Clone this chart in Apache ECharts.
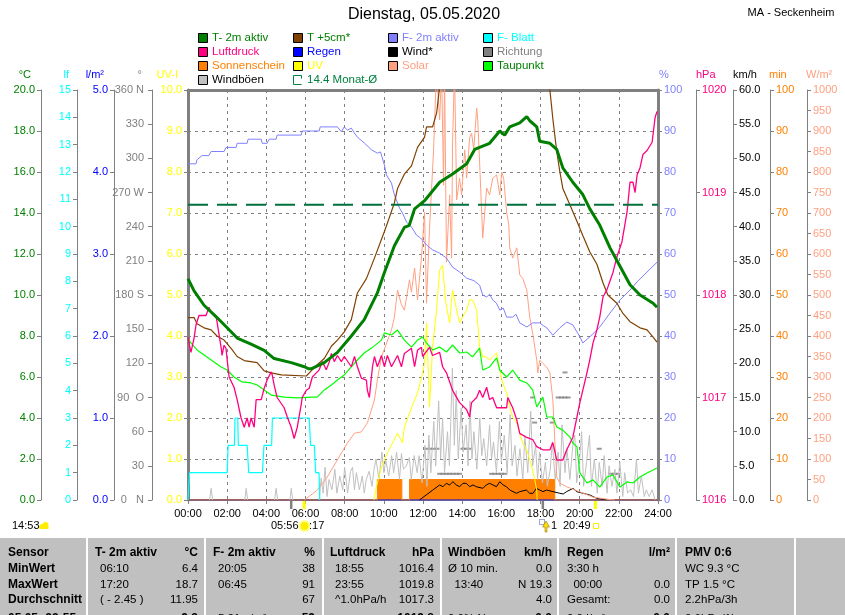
<!DOCTYPE html>
<html><head><meta charset="utf-8">
<script src="https://cdn.jsdelivr.net/npm/echarts@6/dist/echarts.min.js"></script>
<style>html,body{margin:0;padding:0;background:#fff}#c{width:845px;height:615px}</style>
</head><body><div id="c"></div>
<script>
// ---------- tick labels ----------
const stundenTicks = ['00:00','02:00','04:00','06:00','08:00','10:00','12:00','14:00','16:00','18:00','20:00','22:00','24:00'];
const richtungTicks = {0:'0   N', 90:'90  O', 180:'180 S', 270:'270 W', 360:'360 N'};

// ---------- series data: [hour, value] ----------
const t2m = [[0,10.8],[0.31,10.2],[0.82,9.5],[1.48,8.9],[2.0,8.4],[2.51,7.9],[3.22,7.6],[3.89,7.3],[4.4,6.9],[5.27,6.7],[5.94,6.5],[6.17,6.4],[6.29,6.4],[6.96,6.7],[7.63,7.2],[8.34,8.0],[9.0,8.8],[9.67,10.1],[10.03,11.1],[10.54,12.4],[11.05,13.3],[11.3,13.4],[11.57,14.2],[12.08,14.6],[12.85,15.5],[13.51,15.9],[14.23,16.4],[14.64,17.1],[14.89,17.2],[15.4,17.4],[15.92,18.0],[16.17,17.8],[16.43,18.2],[16.94,18.4],[17.3,18.7],[17.45,18.5],[17.81,18.2],[17.96,17.5],[18.48,17.4],[18.83,17.1],[19.14,16.2],[19.65,15.5],[20.16,14.9],[20.52,14.2],[21.03,13.4],[21.55,12.3],[22.06,11.4],[22.57,10.5],[23.08,10.0],[23.75,9.6],[23.95,9.4]];
const t5cm = [[0,8.9],[0.31,8.9],[0.46,8.6],[0.82,8.4],[1.18,8.3],[1.48,8.0],[1.84,7.8],[2.2,7.4],[2.51,7.0],[2.87,6.8],[3.53,6.7],[3.89,6.3],[4.25,6.2],[4.76,6.1],[6.04,6.05],[6.29,6.3],[6.6,6.6],[6.96,6.9],[7.32,7.5],[7.63,7.8],[7.98,8.2],[8.34,8.8],[8.65,10.1],[9.11,10.8],[9.52,11.8],[10.03,13.1],[10.29,13.8],[10.54,14.5],[10.7,15.2],[11.05,15.9],[11.41,16.3],[11.72,17.2],[12.08,17.7],[12.18,18.2],[12.49,18.2],[12.7,18.9],[12.9,20.6],[13.5,22.5],[14.5,24.0],[15.5,24.5],[16.5,24.0],[17.5,22.0],[18.3,20.6],[18.48,20.0],[18.63,18.6],[18.83,17.0],[18.99,16.0],[19.14,15.2],[19.5,14.4],[19.86,13.6],[20.16,12.9],[20.52,12.1],[20.88,11.5],[21.19,10.6],[21.44,10.0],[21.9,9.6],[22.21,9.1],[22.57,8.7],[23.08,8.4],[23.44,8.3],[23.75,7.95],[23.95,7.7]];
const taupunkt = [[0,7.9],[0.15,7.66],[0.46,7.32],[0.97,6.98],[1.33,6.73],[1.69,6.49],[2.0,6.34],[2.35,6.0],[2.76,5.76],[3.22,5.71],[3.53,5.61],[3.89,5.37],[4.25,5.12],[4.91,5.02],[5.58,4.98],[6.29,5.02],[6.6,5.02],[6.96,5.37],[7.32,5.61],[7.63,5.85],[7.98,6.1],[8.34,6.49],[8.65,6.83],[9.0,7.17],[9.37,7.41],[9.88,7.8],[10.03,8.15],[10.39,8.05],[10.7,8.29],[11.05,7.8],[11.41,7.46],[11.72,7.8],[11.98,7.95],[12.18,7.66],[12.49,7.32],[12.85,7.46],[13.2,7.22],[13.51,7.56],[13.87,7.17],[14.23,7.22],[14.53,6.98],[14.89,7.41],[15.05,6.34],[15.4,6.49],[15.76,6.93],[15.92,6.34],[16.27,6.0],[16.58,6.34],[16.94,5.85],[17.3,5.71],[17.6,5.37],[17.81,4.54],[18.12,5.02],[18.32,4.05],[18.63,4.05],[18.83,3.56],[19.14,3.41],[19.5,3.07],[19.65,2.78],[19.86,2.59],[20.01,1.32],[20.37,0.83],[20.68,0.98],[21.03,0.63],[21.39,1.12],[21.7,1.22],[22.06,0.63],[22.42,0.88],[22.72,0.83],[23.08,1.12],[23.44,1.32],[23.75,1.46],[23.95,1.56]];
const feuchte2m = [[0,82],[0.41,82],[0.46,83],[0.72,84],[1.07,84],[1.18,85],[1.84,85],[1.94,86],[2.46,86],[2.51,87],[3.02,87],[3.07,88],[3.74,88],[3.79,87],[4.04,87],[4.15,88],[4.5,88],[4.55,89],[5.78,89],[5.83,90],[6.7,90],[6.75,91],[7.63,91],[7.83,89.8],[7.98,91],[8.14,90.2],[8.34,90.7],[8.5,89.5],[8.65,88.5],[9.0,87.1],[9.37,85.4],[9.67,84.6],[9.83,84.9],[10.03,81.7],[10.13,79.3],[10.39,77.3],[10.54,74.4],[10.8,71.2],[10.95,70.0],[11.16,67.8],[11.41,66.6],[11.67,64.6],[11.82,64.1],[11.98,63.4],[12.18,62.2],[12.49,61.0],[12.85,60.2],[13.2,59.0],[13.51,56.8],[13.87,55.6],[14.23,54.1],[14.6,53.5],[14.89,52.4],[15.05,50.0],[15.25,49.5],[15.4,50.2],[15.56,48.8],[15.75,48.0],[15.92,46.3],[16.1,46.8],[16.27,44.6],[16.58,44.6],[16.75,45.3],[16.94,43.2],[17.3,42.2],[17.6,43.2],[17.96,43.2],[18.15,42.5],[18.32,42.0],[18.63,40.2],[18.99,42.0],[19.34,43.4],[19.65,42.7],[20.01,39.8],[20.16,38.3],[20.52,39.8],[21.03,42.2],[21.55,45.6],[22.06,48.8],[22.57,51.2],[22.93,53.2],[23.44,55.6],[23.95,58.0]];
const blatt = [[0,0],[0.05,0],[0.08,1],[2.0,1],[2.05,2],[2.37,2],[2.4,3],[2.54,3],[2.57,2],[3.02,2],[3.1,1],[3.8,1],[3.88,2],[4.27,2],[4.31,3],[6.19,3],[6.26,2],[6.45,2],[6.52,1],[6.69,1],[6.73,0]];
const luftdruck = [[0,1017.59],[0.15,1017.44],[0.31,1017.58],[0.41,1017.71],[0.56,1017.8],[0.92,1017.8],[1.07,1017.88],[1.18,1017.83],[1.43,1017.8],[1.48,1017.74],[1.69,1017.49],[1.74,1017.41],[1.84,1017.51],[1.94,1017.48],[2.0,1017.37],[2.1,1017.2],[2.35,1017.1],[2.51,1016.98],[2.71,1016.8],[2.87,1016.71],[3.02,1016.8],[3.12,1016.71],[3.22,1016.8],[3.38,1016.71],[3.48,1016.98],[3.74,1016.98],[3.89,1017.09],[4.04,1017.17],[4.25,1017.25],[4.3,1017.22],[4.4,1017.12],[4.55,1017.0],[4.91,1016.9],[5.07,1016.81],[5.27,1016.71],[5.42,1016.6],[5.58,1016.71],[5.78,1016.93],[5.83,1017.0],[6.04,1017.07],[6.19,1017.09],[6.35,1017.2],[6.55,1017.24],[6.7,1017.27],[6.86,1017.35],[7.06,1017.27],[7.22,1017.35],[7.32,1017.43],[7.47,1017.35],[7.63,1017.41],[7.83,1017.35],[7.98,1017.4],[8.34,1017.3],[8.5,1017.4],[8.65,1017.3],[8.85,1017.19],[9.11,1017.17],[9.16,1017.07],[9.26,1017.0],[9.42,1017.3],[9.52,1017.4],[9.67,1017.3],[9.88,1017.41],[10.03,1017.3],[10.18,1017.41],[10.39,1017.3],[10.7,1017.41],[10.9,1017.3],[11.05,1017.43],[11.41,1017.48],[11.57,1017.3],[11.72,1017.46],[11.92,1017.49],[11.98,1017.4],[12.33,1017.49],[12.49,1017.41],[12.85,1017.44],[13.0,1017.3],[13.2,1017.24],[13.51,1017.07],[13.87,1016.95],[14.23,1016.88],[14.38,1016.81],[14.48,1016.95],[14.74,1017.0],[14.89,1017.07],[15.05,1017.0],[15.25,1017.1],[15.4,1016.98],[15.56,1017.0],[15.76,1016.9],[16.27,1016.9],[16.33,1017.0],[16.58,1016.9],[16.79,1016.78],[16.94,1016.65],[17.3,1016.61],[17.6,1016.59],[17.81,1016.52],[18.12,1016.49],[18.48,1016.49],[18.63,1016.56],[18.83,1016.39],[19.14,1016.39],[19.34,1016.49],[19.65,1016.61],[20.01,1016.95],[20.16,1017.07],[20.37,1017.24],[20.52,1017.37],[20.68,1017.53],[20.88,1017.66],[21.03,1017.79],[21.19,1017.98],[21.39,1018.05],[21.7,1018.22],[21.9,1018.37],[22.16,1018.52],[22.42,1018.81],[22.57,1019.1],[22.72,1019.1],[22.83,1019.0],[22.93,1019.17],[23.08,1019.24],[23.23,1019.37],[23.44,1019.41],[23.7,1019.49],[23.85,1019.73],[23.95,1019.79]];
const solar = [[5.94,0],[6.6,24],[7.11,56],[7.63,98],[8.14,139],[8.5,163],[8.85,166],[9.16,188],[9.52,244],[9.67,293],[9.88,349],[10.39,415],[10.54,446],[10.7,512],[10.9,476],[11.05,463],[11.31,537],[11.41,507],[11.57,566],[11.72,488],[11.92,590],[12.08,702],[12.18,480],[12.33,659],[12.54,854],[12.69,1050],[12.85,927],[12.95,1050],[13.05,768],[13.1,1050],[13.2,580],[13.36,744],[13.46,590],[13.51,873],[13.61,1050],[13.72,732],[13.87,785],[13.97,744],[14.13,854],[14.23,785],[14.38,883],[14.48,895],[14.59,854],[14.74,956],[14.79,932],[14.89,824],[15.05,639],[15.25,761],[15.4,744],[15.56,785],[15.76,793],[15.92,744],[16.02,800],[16.12,785],[16.27,702],[16.38,671],[16.43,615],[16.58,590],[16.79,615],[16.94,549],[17.09,541],[17.3,512],[17.45,446],[17.6,407],[17.81,341],[17.86,310],[17.96,341],[18.32,324],[18.48,310],[18.63,244],[18.73,146],[18.83,56],[18.99,41],[19.34,32],[20.01,20],[20.68,7],[21.39,2],[21.8,0]];
const uv = [[9.5,0],[9.62,0.32],[9.88,0.8],[10.18,1.15],[10.44,1.39],[10.7,1.63],[10.95,1.39],[11.05,1.78],[11.31,2.12],[11.57,2.44],[11.72,2.61],[11.98,3.1],[12.08,3.34],[12.18,4.32],[12.33,2.27],[12.49,3.73],[12.69,4.63],[12.85,5.61],[13.0,5.73],[13.15,4.88],[13.2,4.71],[13.36,4.32],[13.51,5.12],[13.72,4.63],[13.87,4.32],[14.02,4.46],[14.23,4.63],[14.38,4.88],[14.53,4.88],[14.74,4.63],[14.89,3.73],[15.05,3.49],[15.25,3.49],[15.4,3.41],[15.56,3.49],[15.76,3.59],[15.92,3.17],[16.07,2.85],[16.27,2.61],[16.43,2.27],[16.58,2.02],[16.79,1.88],[16.94,1.63],[17.09,1.39],[17.3,1.22],[17.45,0.98],[17.6,0.73],[17.71,0.49],[17.81,0.24],[17.83,0]];
const windboeen = [[1.1,0],[1.18,1.7],[1.26,0],[1.3,'-'],[2.9,0],[2.97,1.7],[3.05,0],[3.1,'-'],[4.42,0],[4.5,1.7],[4.58,0],[4.6,'-'],[5.2,0],[5.27,1.7],[5.35,0],[5.4,'-'],
 [6.7,0],[6.8,3.2],[6.9,1.0],[7.0,4.8],[7.1,0.5],[7.2,3.0],[7.35,1.5],[7.5,4.5],[7.6,1.0],[7.75,3.5],[7.9,1.5],[8.0,4.8],[8.15,1.0],[8.3,4.2],[8.4,4.8],[8.5,1.5],[8.6,4.0],[8.75,1.5],[8.9,3.5],[9.0,1.0],[9.1,3.0],[9.25,4.2],[9.4,2.0],[9.5,4.5],[9.6,6.0],[9.75,3.0],[9.9,7.0],[10.0,4.0],[10.1,5.8],[10.25,3.5],[10.4,6.5],[10.5,4.0],[10.65,7.0],[10.8,3.0],[10.9,6.8],[11.0,4.5],[11.15,5.0],[11.3,6.2],[11.4,3.0],[11.55,6.5],[11.7,4.0],[11.8,6.5],[11.95,2.5],[12.1,8.0],[12.2,2.0],[12.3,9.5],[12.4,4.0],[12.55,11.5],[12.65,5.0],[12.8,14.5],[12.9,6.0],[13.0,12.0],[13.1,4.0],[13.25,10.0],[13.35,5.0],[13.5,19.3],[13.6,8.0],[13.7,16.0],[13.8,6.0],[13.95,13.5],[14.05,7.0],[14.2,11.0],[14.3,5.0],[14.4,14.5],[14.5,6.0],[14.6,10.0],[14.75,4.5],[14.9,12.0],[15.0,6.5],[15.1,9.0],[15.25,5.0],[15.4,11.0],[15.5,6.0],[15.6,8.5],[15.75,4.0],[15.9,11.5],[16.0,5.5],[16.15,9.5],[16.3,4.0],[16.45,12.5],[16.55,5.0],[16.7,8.0],[16.8,3.5],[16.95,7.5],[17.1,3.0],[17.2,9.5],[17.35,4.0],[17.5,13.0],[17.6,5.0],[17.75,8.0],[17.85,3.0],[17.95,7.0],[18.1,2.5],[18.25,5.5],[18.35,2.0],[18.5,4.5],[18.6,8.5],[18.75,3.0],[18.9,7.0],[19.0,2.0],[19.1,11.0],[19.25,4.0],[19.35,7.5],[19.5,3.0],[19.65,8.0],[19.75,9.5],[19.85,2.5],[20.0,6.0],[20.1,10.0],[20.2,2.0],[20.35,5.5],[20.5,9.5],[20.6,2.0],[20.75,6.0],[20.9,1.0],[21.0,5.5],[21.15,2.0],[21.25,6.5],[21.4,1.0],[21.5,5.0],[21.65,2.0],[21.8,4.5],[21.9,1.0],[22.05,5.5],[22.2,0.5],[22.3,4.0],[22.45,1.0],[22.6,1.5],[22.75,0.5],[22.9,6.0],[23.0,1.0],[23.15,3.5],[23.3,0.5],[23.4,1.5],[23.55,0.5],[23.7,1.5],[23.85,0]];
const wind = [[11.82,0],[12.16,0.73],[12.5,1.46],[12.85,2.2],[13.02,1.95],[13.19,2.44],[13.36,2.2],[13.53,2.68],[13.7,2.2],[13.87,1.95],[14.04,2.44],[14.21,2.44],[14.38,1.95],[14.55,2.2],[14.72,1.95],[15.06,1.71],[15.23,2.2],[15.4,2.44],[15.75,1.95],[15.92,2.68],[16.09,2.2],[16.26,1.95],[16.43,1.46],[16.77,0.98],[16.94,1.22],[17.28,1.46],[17.45,0.98],[17.62,0.98],[17.79,1.71],[17.96,1.46],[18.13,1.22],[18.31,1.46],[18.64,1.22],[18.99,0.98],[19.16,0.88],[19.33,1.22],[19.67,1.71],[19.84,1.22],[20.18,0.98],[20.52,0.73],[20.87,0.24],[21.2,0.1],[21.38,0]];
const richtung = [[12.2,45],[12.37,45],[12.54,45],[12.71,45],[12.85,23],[13.02,23],[13.19,23],[13.36,23],[13.53,23],[13.7,23],[13.87,23],[14.04,45],[14.21,45],[14.38,45],[15.5,23],[15.67,23],[15.84,23],[16.01,23],[16.18,23],[17.6,90],[17.7,68],[18.6,68],[18.9,90],[19.07,90],[19.24,90],[19.41,90],[19.25,112],[21.0,45],[21.6,23],[21.77,23],[21.94,23]];
const sonnenschein = [[0,0],[9.67,0],[9.67,5],[10.92,5],[10.92,0],[11.31,0],[11.31,5],[18.73,5],[18.73,0],[24,0]];
const regen = [[0,0],[24,0]];
const monatMittel = 14.4;
const sonnenMarken = [[5.27,'#808080'],[5.93,'#ffff00'],[18.12,'#808080'],[20.8,'#ffff00']];

// ---------- chart ----------
const FONT = '"Liberation Sans", Arial, sans-serif';
const chart = echarts.init(document.getElementById('c'), null, {renderer:'canvas'});

function yax(pos, offset, min, max, interval, color, fmt, extra) {
  return Object.assign({
    type:'value', position:pos, offset:offset, min:min, max:max, interval:interval,
    axisLine:{show:true, onZero:false, lineStyle:{color:'#808080', width:1}},
    axisTick:{show:true, length:4, lineStyle:{color:'#808080', width:1}},
    axisLabel:{color:color, fontSize:11, fontFamily:FONT, margin:6, formatter:fmt, showMinLabel:true, showMaxLabel:true, hideOverlap:false},
    splitLine:{show:false}
  }, extra || {});
}
const f1 = v => v.toFixed(1);
const f0 = v => String(v);

const yAxes = [
  yax('left', 147, 0, 20, 2, '#008000', f1),                 // 0 °C
  yax('left', 111, 0, 15, 1, '#00ffff', f0),                 // 1 lf
  yax('left', 74, 0, 5, 1, '#0000ff', f1),                   // 2 l/m²
  yax('left', 36, 0, 360, 30, '#808080', v => richtungTicks[v] !== undefined ? richtungTicks[v] : String(v), {}), // 3 °
  yax('left', 0, 0, 10, 1, '#ffff00', f1, {                  // 4 UV-I
    axisLine:{show:true, onZero:false, lineStyle:{color:'#808080', width:3}},
    splitLine:{show:true, lineStyle:{color:'#808080', type:[3,4], width:1}}
  }),
  yax('right', 0, 0, 100, 10, '#8080ff', f0, {               // 5 %
    axisLine:{show:true, onZero:false, lineStyle:{color:'#808080', width:3}}
  }),
  yax('right', 38, 1016, 1020, 1, '#ff0080', f0),            // 6 hPa
  yax('right', 75, 0, 60, 5, '#000000', f1),                 // 7 km/h
  yax('right', 112, 0, 100, 10, '#ff8000', f0),              // 8 min
  yax('right', 149, 0, 1000, 50, '#ffa080', f0)              // 9 W/m²
];
yAxes[3].axisLabel.margin = 8;

function lineS(name, data, yi, color, width, extra) {
  return Object.assign({
    name:name, type:'line', data:data, yAxisIndex:yi, xAxisIndex:0,
    showSymbol:false, symbol:'none', connectNulls:false, clip:true,
    lineStyle:{color:color, width:width}, itemStyle:{color:color}, silent:true
  }, extra || {});
}

const series = [
  lineS('Regen', regen, 2, '#0000ff', 1),
  lineS('Sonnenschein', sonnenschein, 8, '#ff8000', 1, {areaStyle:{color:'#ff8000', opacity:1}}),
  {name:'Richtung', type:'scatter', data:richtung, yAxisIndex:3, symbol:'rect', symbolSize:[5,2], itemStyle:{color:'#808080'}, silent:true},
  lineS('Windböen', windboeen, 7, '#c0c0c0', 1),
  lineS('Wind*', wind, 7, '#000000', 1),
  lineS('Solar', solar, 9, '#ffa080', 1),
  lineS('UV', uv, 4, '#ffff00', 1),
  lineS('F- Blatt', blatt, 1, '#00ffff', 1.2),
  lineS('F- 2m aktiv', feuchte2m, 5, '#8080ff', 1),
  lineS('T +5cm*', t5cm, 0, '#804000', 1.2),
  lineS('Taupunkt', taupunkt, 0, '#00ff00', 1.2),
  lineS('Luftdruck', luftdruck, 6, '#ff0080', 1.3),
  lineS('Monat-Ø', [[0,monatMittel],[24,monatMittel]], 0, '#00703c', 2, {lineStyle:{color:'#00703c', width:2, type:[20,9]}}),
  lineS('T- 2m aktiv', t2m, 0, '#008000', 3)
];

chart.setOption({
  animation:false,
  backgroundColor:'#ffffff',
  textStyle:{fontFamily:FONT},
  grid:{left:188, right:187, top:90, bottom:115, containLabel:false, outerBoundsMode:'none', show:false},
  xAxis:[
    {type:'value', position:'bottom', min:0, max:24, interval:2,
     axisLine:{show:true, onZero:false, lineStyle:{color:'#808080', width:2}},
     axisTick:{show:true, length:4, lineStyle:{color:'#808080'}},
     axisLabel:{color:'#000', fontSize:11, fontFamily:FONT, margin:8, formatter:v => stundenTicks[Math.round(v/2)], showMinLabel:true, showMaxLabel:true, hideOverlap:false},
     splitLine:{show:true, lineStyle:{color:'#808080', type:[3,4], width:1}}},
    {type:'value', position:'top', min:0, max:24, interval:2,
     axisLine:{show:true, onZero:false, lineStyle:{color:'#808080', width:3}},
     axisTick:{show:false}, axisLabel:{show:false}, splitLine:{show:false}}
  ],
  yAxis:yAxes,
  series:series
});

// ---------- graphic: titles, legend, axis names, table, annotations ----------
const G = [];
function txt(x, y, text, color, size, align, weight) {
  G.push({type:'text', x:x, y:y, silent:true, z:100, style:{text:text, fill:color, font:(weight||'normal')+' '+size+'px '+FONT, align:align||'left', verticalAlign:'middle'}});
}
function rect(x, y, w, h, fill, stroke, lw, dash) {
  G.push({type:'rect', silent:true, z:90, shape:{x:x, y:y, width:w, height:h}, style:{fill:fill||'none', stroke:stroke||'none', lineWidth:lw||1, lineDash:dash||null}});
}
function ln(x1, y1, x2, y2, color, w) {
  G.push({type:'line', silent:true, z:95, shape:{x1:x1, y1:y1, x2:x2, y2:y2}, style:{stroke:color, lineWidth:w||1}});
}

// title
txt(424, 15, 'Dienstag, 05.05.2020', '#000', 16, 'center');
txt(791, 13, 'MA - Seckenheim', '#000', 11, 'center');

// legend
const legende = [
  ['T- 2m aktiv','#008000','#008000'], ['T +5cm*','#804000','#008000'], ['F- 2m aktiv','#8080ff','#8080ff'], ['F- Blatt','#00ffff','#00ffff'],
  ['Luftdruck','#ff0080','#ff0080'], ['Regen','#0000ff','#0000ff'], ['Wind*','#000000','#000000'], ['Richtung','#808080','#808080'],
  ['Sonnenschein','#ff8000','#ff8000'], ['UV','#ffff00','#ffff00'], ['Solar','#ffa080','#ffa080'], ['Taupunkt','#00ff00','#008000'],
  ['Windböen','#c0c0c0','#000000'], [monatMittel.toFixed(1)+' Monat-Ø', null, '#008040']
];
const legX = [198, 293, 388, 483], legY = [38, 52, 66, 80];
legende.forEach((e, i) => {
  const x = legX[i % 4], y = legY[Math.floor(i / 4)];
  if (e[1]) rect(x + 0.5, y - 4.5, 9, 9, e[1], '#000', 1);
  else G.push({type:'polyline', silent:true, z:90, shape:{points:[[x+8.5,y-1.5],[x+8.5,y-4.5],[x+0.5,y-4.5],[x+0.5,y+4.5],[x+8.5,y+4.5]]}, style:{stroke:'#008040', lineWidth:1, fill:'none'}});
  txt(x + 14, y, e[0], e[2], 11.5, 'left');
});

// axis titles
[['°C',31,'#008000'],['lf',69,'#00ffff'],['l/m²',104,'#0000ff'],['°',142,'#808080'],['UV-I',178,'#ffff00']].forEach(a => txt(a[1], 75, a[0], a[2], 11, 'right'));
[['%',659,'#8080ff'],['hPa',696,'#ff0080'],['km/h',733,'#000000'],['min',769,'#ff8000'],['W/m²',806,'#ffa080']].forEach(a => txt(a[1], 75, a[0], a[2], 11, 'left'));

// annotations under the time axis
sonnenMarken.forEach(m => {
  const px = chart.convertToPixel({xAxisIndex:0}, m[0]);
  ln(px, 501, px, 509, m[1], m[1] === '#ffff00' ? 3 : 2.5);
});
txt(12, 526, '14:53', '#000', 11, 'left');
G.push({type:'circle', silent:true, z:95, shape:{cx:42, cy:526.5, r:2.6}, style:{fill:'#ffee00'}});
G.push({type:'circle', silent:true, z:95, shape:{cx:45.5, cy:525, r:3}, style:{fill:'#ffee00'}});
rect(39.5, 526, 9, 3, '#ffee00', null);
txt(271, 526, '05:56', '#000', 11, 'left');
G.push({type:'circle', silent:true, z:95, shape:{cx:304.5, cy:526, r:6}, style:{fill:'#ffff90'}});
G.push({type:'circle', silent:true, z:96, shape:{cx:304.5, cy:526, r:4}, style:{fill:'#ffee00'}});
txt(309, 526, ':17', '#000', 11, 'left');
rect(539.5, 519.5, 5, 5, 'none', '#4050b0', 1, [1,1]);
G.push({type:'polygon', silent:true, z:96, shape:{points:[[546,521],[542.5,527],[545,527],[545,532],[547,532],[547,527],[549.5,527]]}, style:{fill:'#ffe000', stroke:'#806000', lineWidth:0.5}});
txt(551, 526, '1', '#000', 11, 'left');
txt(563, 526, '20:49', '#000', 11, 'left');
rect(593.5, 523.5, 5, 5, 'none', '#ffee00', 1);

// bottom table
rect(0, 538, 845, 80, '#c0c0c0', null);
[87, 205, 323, 441, 558, 676, 795].forEach(x => ln(x, 538, x, 615, '#ffffff', 2));
const rowsY = [553, 569, 585, 600, 619];
const spalteSensor = ['Sensor','MinWert','MaxWert','Durchschnitt','05.05.-23:55'];
spalteSensor.forEach((t, i) => txt(8, rowsY[i], t, '#000', 12, 'left', 'bold'));
const tabelle = [
  {xh:95, xv:100, xr:198, kopf:'T- 2m aktiv', einheit:'°C', links:['06:10','17:20','( - 2.45 )',''], rechts:['6.4','18.7','11.95','9.3']},
  {xh:213, xv:218, xr:315, kopf:'F- 2m aktiv', einheit:'%', links:['20:05','06:45','','5.21 g/m³'], rechts:['38','91','67','59']},
  {xh:330, xv:335, xr:434, kopf:'Luftdruck', einheit:'hPa', links:['18:55','23:55','^1.0hPa/h',''], rechts:['1016.4','1019.8','1017.3','▲1019.8']},
  {xh:448, xv:448, xr:552, kopf:'Windböen', einheit:'km/h', links:['Ø 10 min.','  13:40','','0.0% N'], rechts:['0.0','N 19.3','4.0','0.0']},
  {xh:567, xv:567, xr:670, kopf:'Regen', einheit:'l/m²', links:['3:30 h','  00:00','Gesamt:','0.0 l/m²'], rechts:['','0.0','0.0','0.0']},
  {xh:685, xv:685, xr:null, kopf:'PMV 0:6', einheit:'', links:['WC 9.3 °C','TP 1.5 °C','2.2hPa/3h','0.6hPa/1h'], rechts:[]}
];
tabelle.forEach(c => {
  txt(c.xh, rowsY[0], c.kopf, '#000', 12, 'left', 'bold');
  if (c.xr) txt(c.xr, rowsY[0], c.einheit, '#000', 12, 'right', 'bold');
  c.links.forEach((t, i) => { if (t) txt(i === 2 && c.xv !== c.xh ? c.xv : (i === 2 ? c.xh : c.xv), rowsY[i+1], t, '#000', 11.5, 'left'); });
  c.rechts.forEach((t, i) => { if (t && c.xr) txt(c.xr, rowsY[i+1], t, '#000', i === 3 ? 12 : 11.5, 'right', i === 3 ? 'bold' : 'normal'); });
});

chart.setOption({graphic:G});
</script>
</body></html>
